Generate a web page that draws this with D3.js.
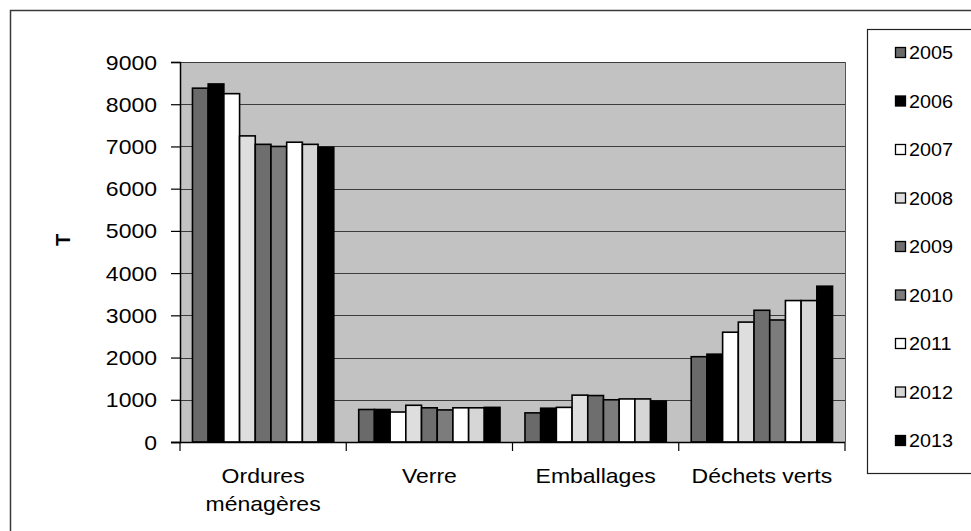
<!DOCTYPE html>
<html>
<head>
<meta charset="utf-8">
<script src="https://cdn.jsdelivr.net/npm/d3@7"></script>
<style>
  html, body { margin: 0; padding: 0; background: #fff; }
  svg { display: block; font-family: "Liberation Sans", Arial, sans-serif; }
</style>
</head>
<body>
<svg id="chart" width="971" height="531"></svg>
<script>
const categories = [["Ordures", "ménagères"], ["Verre"], ["Emballages"], ["Déchets verts"]];
const years = ["2005", "2006", "2007", "2008", "2009", "2010", "2011", "2012", "2013"];
const values2005 = [8380, 770, 690, 2020];
const values2006 = [8480, 770, 800, 2080];
const values2007 = [8250, 710, 820, 2600];
const values2008 = [7250, 870, 1110, 2840];
const values2009 = [7050, 810, 1100, 3120];
const values2010 = [7000, 760, 1000, 2890];
const values2011 = [7100, 810, 1020, 3350];
const values2012 = [7050, 810, 1020, 3350];
const values2013 = [6980, 820, 970, 3690];
const yTicks = [0, 1000, 2000, 3000, 4000, 5000, 6000, 7000, 8000, 9000];
const yLabel = "T";

const series = [values2005, values2006, values2007, values2008, values2009,
                values2010, values2011, values2012, values2013];
const fills = ["#6a6a6a", "#000000", "#ffffff", "#dedede", "#6e6e6e",
               "#7c7c7c", "#ffffff", "#d6d6d6", "#000000"];

const svg = d3.select("#chart");
const plot = { left: 180, right: 845, top: 62, bottom: 442 };
const sx = 1.15;

// outer border
svg.append("path")
  .attr("d", `M10.5,531 L10.5,10.5 L971,10.5`)
  .attr("fill", "none").attr("stroke", "#3a3a3a").attr("stroke-width", 1.5);

const catKeys = categories.map((c, i) => i);
const x0 = d3.scaleBand().domain(catKeys).range([plot.left, plot.right])
  .paddingInner(0.15).paddingOuter(0.075);
const x1 = d3.scaleBand().domain(years).range([0, x0.bandwidth()]).padding(0);
const y = d3.scaleLinear().domain([0, 9000]).range([plot.bottom, plot.top]);
const step = (plot.right - plot.left) / categories.length;

// plot background
svg.append("rect")
  .attr("x", plot.left).attr("y", plot.top)
  .attr("width", plot.right - plot.left).attr("height", plot.bottom - plot.top)
  .attr("fill", "#c2c2c2");

// gridlines
svg.append("g").selectAll("line").data(yTicks.filter(t => t > 0)).join("line")
  .attr("x1", plot.left).attr("x2", plot.right)
  .attr("y1", d => Math.round(y(d)) + 0.5).attr("y2", d => Math.round(y(d)) + 0.5)
  .attr("stroke", "#3c3c3c").attr("stroke-width", 1);

// right border of plot
svg.append("line")
  .attr("x1", plot.right + 0.5).attr("x2", plot.right + 0.5)
  .attr("y1", plot.top).attr("y2", plot.bottom)
  .attr("stroke", "#555").attr("stroke-width", 1);

// bars
const gBars = svg.append("g");
catKeys.forEach(ci => {
  years.forEach((yr, si) => {
    const v = series[si][ci];
    gBars.append("rect")
      .attr("x", x0(ci) + x1(yr))
      .attr("y", y(v))
      .attr("width", x1.bandwidth())
      .attr("height", y(0) - y(v))
      .attr("fill", fills[si])
      .attr("stroke", "#000").attr("stroke-width", 1.6);
  });
});

// y axis
const yAxis = d3.axisLeft(y).tickValues(yTicks).tickSize(9).tickPadding(0).tickFormat(d3.format("d"));
const gy = svg.append("g").attr("transform", `translate(${plot.left},0)`).call(yAxis);
gy.select(".domain").attr("stroke", "#000").attr("stroke-width", 1.5);
gy.selectAll(".tick line").attr("stroke", "#000").attr("stroke-width", 1.2);
gy.selectAll(".tick text").remove();
gy.selectAll(".tick").append("text")
  .attr("transform", `translate(-23,0) scale(${sx},1)`)
  .attr("text-anchor", "end").attr("dy", "0.35em")
  .attr("fill", "#000").attr("font-size", 20)
  .text(d => d);

// x axis
const xAxisG = svg.append("g");
xAxisG.append("line")
  .attr("x1", plot.left - 9).attr("x2", plot.right)
  .attr("y1", plot.bottom + 0.5).attr("y2", plot.bottom + 0.5)
  .attr("stroke", "#000").attr("stroke-width", 1.5);
const xBoundaries = d3.range(categories.length + 1).map(i => plot.left + i * step);
xAxisG.selectAll("line.tk").data(xBoundaries).join("line").attr("class", "tk")
  .attr("x1", d => d).attr("x2", d => d)
  .attr("y1", plot.bottom).attr("y2", plot.bottom + 9)
  .attr("stroke", "#000").attr("stroke-width", 1.2);

catKeys.forEach(ci => {
  const cx = x0(ci) + x0.bandwidth() / 2;
  const t = xAxisG.append("text")
    .attr("transform", `translate(${cx},483) scale(${sx},1)`)
    .attr("text-anchor", "middle").attr("font-size", 20).attr("fill", "#000");
  categories[ci].forEach((line, li) => {
    t.append("tspan").attr("x", 0).attr("dy", li === 0 ? 0 : 28).text(line);
  });
});

// y label
svg.append("text")
  .attr("transform", `translate(70,240) rotate(-90)`)
  .attr("text-anchor", "middle").attr("font-size", 20).attr("font-weight", "bold")
  .attr("fill", "#000").text(yLabel);

// legend
const lg = svg.append("g");
lg.append("rect")
  .attr("x", 867.5).attr("y", 29.5).attr("width", 120).attr("height", 444)
  .attr("fill", "#fff").attr("stroke", "#222").attr("stroke-width", 1.2);
const ly = d3.scalePoint().domain(years).range([53, 441]);
years.forEach((yr, si) => {
  lg.append("rect")
    .attr("x", 895.5).attr("y", ly(yr) - 5.5).attr("width", 10).attr("height", 10)
    .attr("fill", fills[si]).attr("stroke", "#000").attr("stroke-width", 1.3);
  lg.append("text")
    .attr("transform", `translate(909,${ly(yr)}) scale(1.1,1)`)
    .attr("dy", "0.36em").attr("font-size", 18).attr("fill", "#000").text(yr);
});
</script>
</body>
</html>
